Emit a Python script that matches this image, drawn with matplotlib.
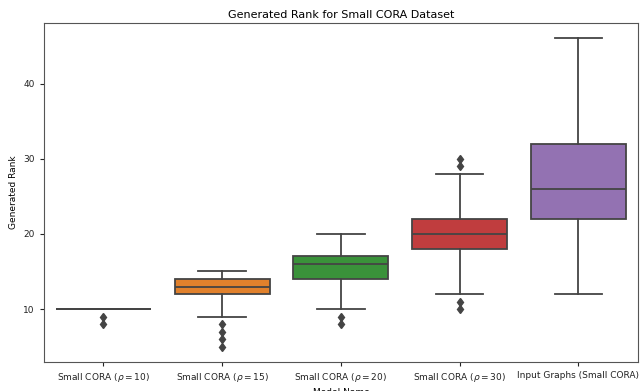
import matplotlib
matplotlib.use("Agg")
import matplotlib.pyplot as plt

categories = ["Small CORA ($\\rho = 10$)", "Small CORA ($\\rho = 15$)",
              "Small CORA ($\\rho = 20$)", "Small CORA ($\\rho = 30$)",
              "Input Graphs (Small CORA)"]
medians = [10, 13, 16, 20, 26]
q1s = [10, 12, 14, 18, 22]
q3s = [10, 14, 17, 22, 32]
whisker_low = [10, 9, 10, 12, 12]
whisker_high = [10, 15, 20, 28, 46]
fliers = [[9, 8], [8, 7, 6, 5], [9, 8], [11, 10, 29, 30], []]
colors = ["#3274a1", "#e1812c", "#3a923a", "#c03d3e", "#9372b2"]

line_color = "#444444"
lw = 1.3

fig = plt.figure(figsize=(6.42, 3.91), dpi=100)
ax = fig.add_axes([0.0685, 0.074, 0.925, 0.867])

stats = []
for i in range(len(categories)):
    stats.append(dict(med=medians[i], q1=q1s[i], q3=q3s[i],
                      whislo=whisker_low[i], whishi=whisker_high[i],
                      fliers=fliers[i], label=categories[i]))

bp = ax.bxp(stats, positions=range(len(categories)), widths=0.8,
            patch_artist=True,
            boxprops=dict(edgecolor=line_color, linewidth=lw),
            medianprops=dict(color=line_color, linewidth=lw),
            whiskerprops=dict(color=line_color, linewidth=lw),
            capprops=dict(color=line_color, linewidth=lw),
            flierprops=dict(marker="d", markerfacecolor=line_color,
                            markeredgecolor=line_color, markersize=4.5,
                            linestyle="none"))
for patch, c in zip(bp["boxes"], colors):
    patch.set_facecolor(c)

ax.set_xlim(-0.5, 4.5)
ax.set_ylim(2.95, 48.05)
ax.set_yticks([10, 20, 30, 40])
ax.tick_params(labelsize=6.5, colors="#222222", length=3, width=0.8)
for s in ax.spines.values():
    s.set_color("#555555")
    s.set_linewidth(0.8)
ax.set_title("Generated Rank for Small CORA Dataset", fontsize=8, pad=4)
ax.set_ylabel("Generated Rank", fontsize=6.5, labelpad=4)
ax.set_xlabel("Model Name", fontsize=6.5, labelpad=3)

fig.savefig("out.png", dpi=100)
